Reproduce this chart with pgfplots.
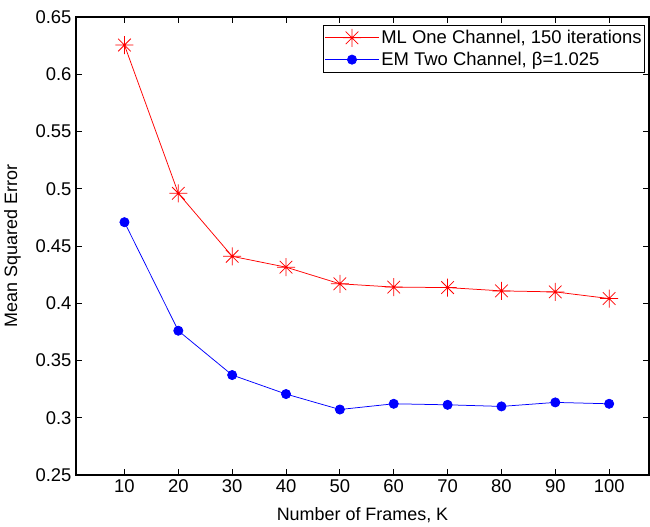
\documentclass[border=0pt]{standalone}
\usepackage{pgfplots}
\pgfplotsset{compat=1.18}
\usepackage{fontspec}
\setmainfont{Liberation Sans}

% MATLAB-style '*' marker: plus and cross together
\pgfdeclareplotmark{mstar}{%
  \pgfpathmoveto{\pgfqpoint{-\pgfplotmarksize}{0pt}}%
  \pgfpathlineto{\pgfqpoint{\pgfplotmarksize}{0pt}}%
  \pgfpathmoveto{\pgfqpoint{0pt}{-\pgfplotmarksize}}%
  \pgfpathlineto{\pgfqpoint{0pt}{\pgfplotmarksize}}%
  \pgfpathmoveto{\pgfqpoint{-0.7\pgfplotmarksize}{-0.7\pgfplotmarksize}}%
  \pgfpathlineto{\pgfqpoint{0.7\pgfplotmarksize}{0.7\pgfplotmarksize}}%
  \pgfpathmoveto{\pgfqpoint{-0.7\pgfplotmarksize}{0.7\pgfplotmarksize}}%
  \pgfpathlineto{\pgfqpoint{0.7\pgfplotmarksize}{-0.7\pgfplotmarksize}}%
  \pgfusepathqstroke}

\begin{document}
\begin{tikzpicture}
  \begin{axis}[
      scale only axis,
      width=573bp, height=458bp,
      xmin=1, xmax=107.4,
      ymin=0.25, ymax=0.65,
      xtick={10,20,30,40,50,60,70,80,90,100},
      ytick={0.25,0.3,0.35,0.4,0.45,0.5,0.55,0.6,0.65},
      yticklabel={\pgfmathprintnumber[fixed,precision=2]{\tick}},
      xtick pos=both, ytick pos=both,
      tick align=inside,
      major tick length=6bp,
      axis line style={line width=1.2bp},
      every tick/.style={black, line width=0.8bp},
      /pgf/number format/assume math mode=true,
      tick label style={font=\fontsize{18.5}{21}\selectfont},
      xticklabel style={yshift=-1bp},
      yticklabel style={xshift=-1bp},
      label style={font=\fontsize{18}{21}\selectfont},
      xlabel={Number of Frames, K},
      ylabel={Mean Squared Error},
      xlabel style={yshift=-8bp},
      ylabel style={yshift=8bp},
      legend style={
        at={(1,1)}, anchor=north east, xshift=-4bp, yshift=-8bp,
        draw=black, line width=0.8bp, fill=white,
        font=\fontsize{18.5}{21}\selectfont,
        cells={anchor=west},
        inner xsep=1bp, inner ysep=3bp, row sep=3bp,
      },
      legend image code/.code={%
        \draw[mark repeat=2,mark phase=2,#1]
          plot coordinates {(0bp,0bp) (27bp,0bp) (54bp,0bp)};},
    ]

    \addplot[red, line width=0.75bp, mark=mstar, mark size=9bp,
             mark options={line width=0.75bp}] coordinates {
        (10, 0.6255)
        (20, 0.496)
        (30, 0.441)
        (40, 0.4315)
        (50, 0.417)
        (60, 0.4141)
        (70, 0.4137)
        (80, 0.4108)
        (90, 0.4099)
        (100, 0.4041)
    };
    \addlegendentry{ML One Channel, 150 iterations}

    \addplot[blue, line width=0.75bp, mark=*, mark size=4.6bp,
             mark options={fill=blue, draw=blue}] coordinates {
        (10, 0.4708)
        (20, 0.376)
        (30, 0.3373)
        (40, 0.3207)
        (50, 0.3072)
        (60, 0.3122)
        (70, 0.3113)
        (80, 0.3099)
        (90, 0.3134)
        (100, 0.3122)
    };
    \addlegendentry{EM Two Channel, β=1.025}

  \end{axis}
  % page size of the reference, 1bp = 1px
  \path (current axis.south west) +(-76bp,-45bp) coordinate (bl);
  \path (current axis.north east) +(1bp,17bp) coordinate (tr);
  \path (bl) rectangle (tr);
\end{tikzpicture}
\end{document}
